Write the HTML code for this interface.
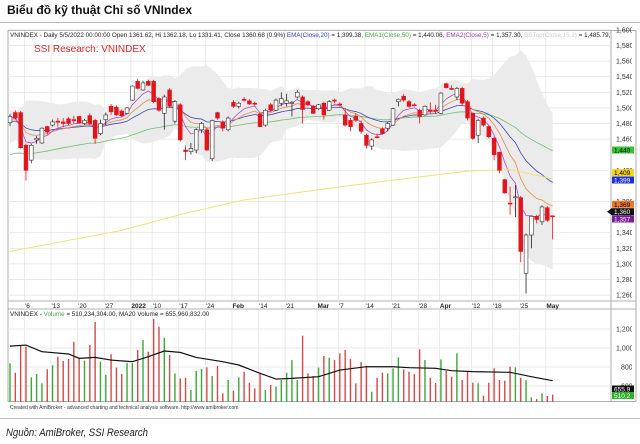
<!DOCTYPE html>
<html><head><meta charset="utf-8"><style>
html,body{margin:0;padding:0;background:#fff}
svg{display:block;font-family:"Liberation Sans",sans-serif}
</style></head><body>
<svg id="chart" width="640" height="444" viewBox="0 0 640 444" xmlns="http://www.w3.org/2000/svg">
<defs>
<clipPath id="plotClip"><rect x="8" y="31" width="603" height="269"/></clipPath>
<clipPath id="volClip"><rect x="8" y="309" width="603" height="93"/></clipPath>
<clipPath id="axClip"><rect x="611" y="20" width="21" height="400"/></clipPath>
<clipPath id="boxClip"><rect x="606" y="20" width="30" height="400"/></clipPath>
</defs>
<text x="7" y="14" font-size="12" font-weight="bold" fill="#111" textLength="185" lengthAdjust="spacingAndGlyphs">Biểu đồ kỹ thuật Chỉ số VNIndex</text>
<line x1="0" y1="22.5" x2="640" y2="22.5" stroke="#bbb" stroke-width="1"/>
<rect x="8" y="30.5" width="628" height="371" fill="#fff" stroke="#999" stroke-width="0.8"/>
<line x1="611" y1="30" x2="611" y2="402" stroke="#999" stroke-width="0.8"/>
<line x1="8" y1="301" x2="636" y2="301" stroke="#999" stroke-width="0.8"/>
<line x1="8" y1="309" x2="636" y2="309" stroke="#999" stroke-width="0.8"/>
<g id="grid"></g>
<g id="bands" clip-path="url(#plotClip)"></g>
<g id="lines" clip-path="url(#plotClip)"></g>
<g id="candles" clip-path="url(#plotClip)"></g>
<g id="vol" clip-path="url(#volClip)"></g>
<g id="axes"></g>
<text x="10" y="37" font-size="6.3" fill="#222">VNINDEX - Daily 5/5/2022 00:00:00 Open 1361.62, Hi 1362.18, Lo 1331.41, Close 1360.68 (0.9%) <tspan fill="#3344cc">EMA(Close,20)</tspan> = 1,399.38, <tspan fill="#44aa44">EMA1(Close,50)</tspan> = 1,440.06, <tspan fill="#9933bb">EMA2(Close,5)</tspan> = 1,357.30, <tspan fill="#ccc">BBTop(Close,15,2)</tspan> = 1,485.79,</text>
<text x="34" y="52" font-size="10" fill="#d42a2a">SSI Research: VNINDEX</text>
<text x="10" y="316" font-size="6.3" fill="#222">VNINDEX - <tspan fill="#44aa44">Volume</tspan> = 510,234,304.00, MA20 Volume = 655,960,832.00</text>
<text x="10" y="409" font-size="5" fill="#333">Created with AmiBroker - advanced charting and technical analysis software. http://www.amibroker.com</text>
<line x1="0" y1="418.5" x2="640" y2="418.5" stroke="#bbb" stroke-width="1"/>
<text x="6" y="436" font-size="11" font-style="italic" fill="#222" textLength="142" lengthAdjust="spacingAndGlyphs">Nguồn: AmiBroker, SSI Research</text>
</svg>
<script>
const opens=[1481,1494,1494,1452,1433,1459,1455,1476,1478,1483,1482,1486,1485,1489,1480,1490,1484,1467,1485,1502,1501,1496,1493,1510,1534,1523,1534,1534,1512,1493,1523,1483,1504,1446,1444,1446,1472,1472,1435,1494,1482,1472,1507,1502,1511,1509,1506,1492,1478,1504,1497,1506,1506,1506,1514,1514,1508,1502,1499,1506,1497,1510,1505,1491,1484,1489,1480,1465,1451,1463,1473,1474,1478,1508,1515,1508,1504,1497,1491,1497,1497,1493,1531,1525,1514,1525,1508,1493,1465,1487,1476,1461,1443,1408,1378,1385,1385,1288,1337,1361,1354,1372,1361.62];
const highs=[1492,1497,1496,1454,1454,1464,1475,1477,1485,1487,1487,1488,1490,1490,1486,1493,1486,1485,1494,1505,1503,1498,1501,1529,1537,1535,1536,1536,1514,1517,1525,1510,1506,1452,1455,1474,1482,1475,1485,1495,1484,1489,1510,1508,1514,1511,1508,1494,1499,1506,1512,1520,1518,1509,1523,1516,1510,1504,1505,1508,1510,1512,1507,1500,1487,1493,1484,1467,1461,1467,1475,1482,1500,1512,1518,1510,1506,1499,1503,1507,1504,1520,1532,1529,1527,1527,1510,1494,1486,1489,1478,1463,1444,1409,1399,1401,1387,1339,1362,1363,1375,1374,1362.18];
const lows=[1477,1485,1448,1407,1429,1454,1454,1466,1476,1476,1475,1478,1480,1481,1478,1478,1454,1465,1478,1491,1490,1488,1492,1509,1524,1522,1528,1506,1495,1472,1500,1480,1457,1433,1440,1442,1468,1445,1432,1485,1470,1470,1500,1499,1508,1504,1503,1476,1476,1496,1496,1502,1502,1489,1512,1480,1502,1492,1497,1485,1496,1506,1502,1476,1470,1482,1467,1448,1446,1461,1466,1470,1477,1502,1508,1500,1502,1480,1490,1493,1493,1492,1525,1523,1510,1504,1484,1459,1455,1476,1461,1433,1416,1390,1363,1360,1302,1262,1320,1352,1350,1354,1331.41];
const closes=[1489,1487,1449,1420,1452,1461,1474,1469,1482,1482,1480,1480,1484,1481,1484,1480,1461,1480,1491,1495,1491,1490,1500,1528,1525,1532,1529,1508,1497,1514,1502,1508,1459,1444,1448,1472,1480,1446,1484,1487,1474,1487,1502,1506,1510,1505,1505,1476,1497,1497,1510,1512,1509,1507,1520,1498,1504,1493,1504,1491,1508,1509,1504,1478,1476,1484,1470,1452,1459,1462,1467,1480,1499,1511,1510,1502,1503,1489,1502,1496,1496,1519,1526,1524,1525,1506,1487,1461,1484,1478,1463,1440,1420,1391,1377,1386,1316,1337,1361,1357,1373,1356,1360.68];
const priorCloses=[1452,1460,1466,1470,1475,1478,1483,1488,1492,1476,1466,1470,1478,1484];
const volumes=[839,740,1024,1014,691,726,628,776,818,909,863,884,1066,891,867,1032,1274,856,719,934,793,726,842,839,979,1084,961,1308,1224,1108,926,733,680,687,558,758,782,796,705,810,522,663,551,691,751,635,575,740,558,610,593,663,740,873,663,1130,733,705,793,915,898,873,944,979,884,628,852,814,540,687,740,733,786,901,775,751,726,986,873,687,631,880,758,698,944,663,751,635,628,498,635,786,663,656,803,796,687,663,480,463,522,494,510];
const ma20VolIdx=[0,3,6,11,13,16,19,23,26,29,32,35,40,43,47,50,53,58,62,67,72,75,80,83,87,94,98,102];
const ma20VolVal=[1020,1031,961,937,891,901,873,856,909,968,954,901,856,821,733,673,680,698,768,803,803,793,786,761,751,744,698,656];
const ma200Idx=[0,21,33,44,60,75,86,94,102];
const ma200Val=[1316,1343,1365,1382,1397,1410,1419,1421,1409];
const emaSeeds=[1487,1485,1482,1438]; // prior EMA5, EMA10, EMA20, EMA50
const priceTicks=[1600,1580,1560,1540,1520,1500,1480,1460,1420,1380,1360,1340,1320,1300,1280,1260];
const tickLabels=["'6","'13","'20","'27","2022","'10","'17","'24","Feb","'14","'21","Mar","'7","'14","'21","'28","Apr","'12","'18","'25","May"];
const tickBars=[3,8,13,18,23,27,32,37,42,47,52,58,62,67,72,77,81,87,91,96,101];
const volTicks=[1200,1000,800,600];

const NS="http://www.w3.org/2000/svg";
const xs=i=>10+5.32*i;
const yp=p=>76.7+(1540-p)*0.78;
const yv=v=>443-0.095*v;
function mk(tag,attrs,parent){const e=document.createElementNS(NS,tag);for(const k in attrs)e.setAttribute(k,attrs[k]);parent.appendChild(e);return e;}
const G=id=>document.getElementById(id);

const grid=G('grid');
priceTicks.forEach(p=>{const l=mk('line',{x1:8,x2:611,y1:yp(p),y2:yp(p),stroke:'#e2e2e2','stroke-width':0.7},grid);

});
volTicks.forEach(v=>{const l=mk('line',{x1:8,x2:611,y1:yv(v),y2:yv(v),stroke:'#e2e2e2','stroke-width':0.7},grid);

});
tickBars.forEach(b=>{const x=xs(b)-1.5;
const l1=mk('line',{x1:x,x2:x,y1:31,y2:300,stroke:'#e2e2e2','stroke-width':0.7},grid);


const l2=mk('line',{x1:x,x2:x,y1:309,y2:402,stroke:'#e2e2e2','stroke-width':0.7},grid);

});

// bollinger (15,2) using prior history for the first bars
const allC=priorCloses.concat(closes),off=priorCloses.length;
const bTop=[],bBot=[];
for(let i=0;i<closes.length;i++){const j=i+off;const w=allC.slice(j-14,j+1);const m=w.reduce((a,b)=>a+b,0)/w.length;
const sd=Math.sqrt(w.reduce((a,b)=>a+(b-m)*(b-m),0)/w.length);bTop.push(m+2*sd);bBot.push(m-2*sd);}
let d='M'+closes.map((c,i)=>xs(i)+','+yp(bTop[i])).join(' L');
for(let i=closes.length-1;i>=0;i--)d+=' L'+xs(i)+','+yp(bBot[i]);d+='Z';
const band=mk('path',{d:d,fill:'#ebebeb',stroke:'none'},G('bands'));



function ema(n,seed){const k=2/(n+1);let e=seed;return closes.map(c=>(e=c*k+e*(1-k)));}
const lines=G('lines');
function poly(vals,color,name,w){const pl=mk('polyline',{points:vals.map((v,i)=>xs(i)+','+yp(v)).join(' '),fill:'none',stroke:color,'stroke-width':w||0.8},lines);

}
poly(ema(50,emaSeeds[3]),'#6cbf6c','ema50-line');
poly(ema(20,emaSeeds[2]),'#3a46b8','ema20-line');
poly(ema(10,emaSeeds[1]),'#e8894a','ema10-line');
poly(ema(5,emaSeeds[0]),'#b04cc8','ema5-line');
const m200=mk('polyline',{points:ma200Idx.map((b,j)=>xs(b)+','+yp(ma200Val[j])).join(' '),fill:'none',stroke:'#f1e27a','stroke-width':1},lines);



const cg=G('candles');
closes.forEach((c,i)=>{const o=opens[i],x=xs(i),up=c>=o;const col=up?'#222':'#e3141b';
const wk=mk('line',{x1:x,x2:x,y1:yp(highs[i]),y2:yp(lows[i]),stroke:col,'stroke-width':0.8},cg);


const t=yp(Math.max(o,c)),h=Math.max(1,yp(Math.min(o,c))-t);
const r=mk('rect',{x:x-1.9,y:t,width:3.8,height:h,fill:up?'#fff':'#e3141b',stroke:up?'#333':'#e3141b','stroke-width':0.6},cg);

});

const vg=G('vol');
volumes.forEach((v,i)=>{const up=closes[i]>=opens[i];
const b=mk('rect',{x:xs(i)-0.7,y:yv(v),width:1.4,height:410-yv(v),fill:up?'#3aa83a':'#d24a4a'},vg);

});
const mv=mk('polyline',{points:ma20VolIdx.map((b,j)=>xs(b)+','+yv(ma20VolVal[j])).join(' '),fill:'none',stroke:'#111','stroke-width':1.2},vg);



const ax=G('axes');
const axc=mk('g',{'clip-path':'url(#axClip)'},ax);
const bxc=mk('g',{'clip-path':'url(#boxClip)'},ax);
priceTicks.forEach(p=>{const t=mk('text',{x:616,y:yp(p)+2.5,'font-size':7,fill:'#333'},axc);t.textContent=p.toLocaleString('en-US');

});
volTicks.forEach(v=>{const t=mk('text',{x:v>=1000?616:621,y:yv(v)+2.5,'font-size':7,fill:'#333'},axc);t.textContent=v.toLocaleString('en-US');

});
tickLabels.forEach((s,j)=>{const t=mk('text',{x:xs(tickBars[j])-1,y:308,'font-size':6.5,fill:'#222','font-weight':(s==='2022'||s.length===3&&s[0]!=="'")?'bold':'normal'},ax);t.textContent=s;

});
const boxes=[['1,440',150,'#3cc03c','#000'],['1,409',172.7,'#f5d21e','#000'],['1,399',180,'#1f2fd6','#fff'],['1,369',204.3,'#e8782c','#000'],['1,360',211.7,'#111','#fff'],['1,357',219,'#7a1d9a','#fff'],['655.9',389,'#111','#fff'],['510.2',395.5,'#2fb02f','#fff']];
boxes.forEach(b=>{const r=mk('rect',{x:612,y:b[1]-3.5,width:22,height:7,fill:b[2]},bxc);


const t=mk('text',{x:614,y:b[1]+2.5,'font-size':6.5,fill:b[3]},bxc);t.textContent=b[0];

});
const arr=mk('path',{d:'M607,211.7 L612,208 L612,215.4Z',fill:'#111'},ax);


</script>
</body></html>
